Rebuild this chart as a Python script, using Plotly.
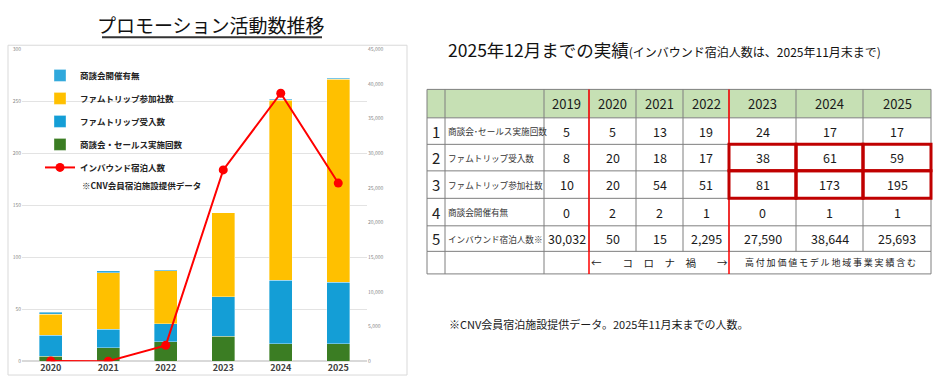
import plotly.graph_objects as go

# ---------------- data ----------------
years = ["2020", "2021", "2022", "2023", "2024", "2025"]
sales_meetings = [5, 13, 19, 24, 17, 17]          # 商談会・セールス実施回数
famtrip_accept = [20, 18, 17, 38, 61, 59]         # ファムトリップ受入数
famtrip_companies = [20, 54, 51, 81, 173, 195]    # ファムトリップ参加社数
meeting_held = [2, 2, 1, 0, 1, 1]                 # 商談会開催有無
inbound_stays = [50, 15, 2295, 27590, 38644, 25693]  # インバウンド宿泊人数

tbl_years = ["2019", "2020", "2021", "2022", "2023", "2024", "2025"]
tbl_labels = ["商談会･セールス実施回数", "ファムトリップ受入数", "ファムトリップ参加社数",
              "商談会開催有無", "インバウンド宿泊人数※"]
tbl_values = [
    [5, 5, 13, 19, 24, 17, 17],
    [8, 20, 18, 17, 38, 61, 59],
    [10, 20, 54, 51, 81, 173, 195],
    [0, 2, 2, 1, 0, 1, 1],
    [30032, 50, 15, 2295, 27590, 38644, 25693],
]
highlight_rows = [1, 2]       # rows boxed in red (0-based)
highlight_cols = [4, 5, 6]    # 2023-2025
corona_text = "←\u3000\u3000コ\u3000ロ\u3000ナ\u3000禍\u3000\u3000→"
model_text = "\u2009".join("高付加価値モデル地域事業実績含む")

title_left = "プロモーション活動数推移"
title_right_main = "2025年12月までの実績"
title_right_sub = "(インバウンド宿泊人数は、2025年11月末まで)"
note_legend = "※CNV会員宿泊施設提供データ"
footnote = "※CNV会員宿泊施設提供データ。2025年11月末までの人数。"

W, H = 935, 379
FONT = "Noto Sans CJK JP"


def X(px):
    return px / W


def Y(py):
    return 1 - py / H


def ann(text, x, y, size, color="#1A1A1A", xanchor="center", yanchor="middle"):
    return dict(text=text, x=X(x), y=Y(y), xref="paper", yref="paper", showarrow=False,
                xanchor=xanchor, yanchor=yanchor, font=dict(family=FONT, size=size, color=color))


fig = go.Figure()

bar_line = dict(color="rgba(255,255,255,0.6)", width=0.6)
fig.add_trace(go.Bar(x=years, y=sales_meetings, name="商談会・セールス実施回数",
                     marker=dict(color="#3B7D23", line=bar_line), legendrank=4, legendgroup="g4"))
fig.add_trace(go.Bar(x=years, y=famtrip_accept, name="ファムトリップ受入数",
                     marker=dict(color="#149ED6", line=bar_line), legendrank=3, legendgroup="g3"))
fig.add_trace(go.Bar(x=years, y=famtrip_companies, name="ファムトリップ参加社数",
                     marker=dict(color="#FFC000", line=bar_line), legendrank=2, legendgroup="g2"))
fig.add_trace(go.Bar(x=years, y=meeting_held, name="商談会開催有無",
                     marker=dict(color="#2FA8DC", line=bar_line), legendrank=1, legendgroup="g1"))
fig.add_trace(go.Scatter(x=years, y=inbound_stays, name="インバウンド宿泊人数", yaxis="y2",
                         mode="lines+markers", line=dict(color="#FF0000", width=2),
                         marker=dict(color="#FF0000", size=9), legendrank=5, legendgroup="g5"))

shapes = []
annotations = []

# chart frame
shapes.append(dict(type="rect", xref="paper", yref="paper", x0=X(8), x1=X(407), y0=Y(378), y1=Y(42),
                   line=dict(color="#D9D9D9", width=1), fillcolor="rgba(0,0,0,0)", layer="below"))

# title + underline
annotations.append(ann(title_left, 211, 21, 19, "#111111"))
shapes.append(dict(type="line", xref="paper", yref="paper", x0=X(102), x1=X(322), y0=Y(34), y1=Y(34),
                   line=dict(color="#333333", width=2)))

# legend note
annotations.append(ann("<b>" + note_legend + "</b>", 80, 184, 8.5, "#222222", xanchor="left"))

# right title
annotations.append(ann(title_right_main + "<span style='font-size:12px'>" + title_right_sub + "</span>",
                       446, 46, 17.5, "#111111", xanchor="left"))

# ---------------- table ----------------
col_edges = [427, 445, 544, 589, 636, 683, 729, 796, 863, 931]
row_edges = [87, 116, 143, 170, 198, 226, 252, 275]
grid = dict(color="#7F7F7F", width=1)

shapes.append(dict(type="rect", xref="paper", yref="paper", x0=X(col_edges[0]), x1=X(col_edges[-1]),
                   y0=Y(row_edges[1]), y1=Y(row_edges[0]), fillcolor="#C6E0B4", line=dict(width=0),
                   layer="below"))
for ry in row_edges:
    shapes.append(dict(type="line", xref="paper", yref="paper", x0=X(col_edges[0]), x1=X(col_edges[-1]),
                       y0=Y(ry), y1=Y(ry), line=grid))
for cx in col_edges:
    shapes.append(dict(type="line", xref="paper", yref="paper", x0=X(cx), x1=X(cx),
                       y0=Y(row_edges[0]), y1=Y(row_edges[-2]), line=grid))
for cx in [427, 445, 544, 931]:
    shapes.append(dict(type="line", xref="paper", yref="paper", x0=X(cx), x1=X(cx),
                       y0=Y(row_edges[-2]), y1=Y(row_edges[-1]), line=grid))
for cx in [589, 729]:
    shapes.append(dict(type="line", xref="paper", yref="paper", x0=X(cx), x1=X(cx),
                       y0=Y(row_edges[0]), y1=Y(row_edges[-1]), line=dict(color="#FF0000", width=1.5)))

# header
for j, yr in enumerate(tbl_years):
    cx = (col_edges[j + 2] + col_edges[j + 3]) / 2
    cy = (row_edges[0] + row_edges[1]) / 2
    annotations.append(ann(yr, cx, cy, 13))
# rows
for i, label in enumerate(tbl_labels):
    cy = (row_edges[i + 1] + row_edges[i + 2]) / 2
    annotations.append(ann(str(i + 1), (col_edges[0] + col_edges[1]) / 2, cy, 15, "#222222"))
    annotations.append(ann(label, col_edges[1] + 1, cy, 8.6, "#333333", xanchor="left"))
    for j, v in enumerate(tbl_values[i]):
        cx = (col_edges[j + 2] + col_edges[j + 3]) / 2
        annotations.append(ann(f"{v:,}", cx, cy, 12.5))
# bottom row
cy = (row_edges[-2] + row_edges[-1]) / 2
annotations.append(ann(corona_text, (589 + 729) / 2, cy, 10.5, "#222222"))
annotations.append(ann(model_text, (729 + 931) / 2, cy, 9, "#222222"))

# red highlight boxes
for r in highlight_rows:
    for c in highlight_cols:
        shapes.append(dict(type="rect", xref="paper", yref="paper",
                           x0=X(col_edges[c + 2]), x1=X(col_edges[c + 3]),
                           y0=Y(row_edges[r + 2]), y1=Y(row_edges[r + 1]),
                           line=dict(color="#C00000", width=3), fillcolor="rgba(0,0,0,0)"))

# footnote
annotations.append(ann(footnote, 447, 326, 11, xanchor="left"))

fig.update_layout(
    width=W, height=H,
    margin=dict(l=0, r=0, t=0, b=0),
    paper_bgcolor="white", plot_bgcolor="white",
    barmode="stack", bargap=0.6,
    font=dict(family=FONT),
    showlegend=True,
    legend=dict(x=X(40), y=Y(58), xanchor="left", yanchor="top", bgcolor="rgba(0,0,0,0)",
                font=dict(family=FONT, size=8.5, color="#222222", weight="bold"),
                tracegroupgap=4, itemwidth=30),
    xaxis=dict(domain=[X(22), X(367)], showgrid=False, showline=False, ticks="",
               tickfont=dict(family=FONT, size=9, color="#404040", weight="bold")),
    yaxis=dict(domain=[Y(364), Y(46)], range=[0, 300], dtick=50, showgrid=True,
               gridcolor="#E3E3E3", gridwidth=1, zeroline=True, zerolinecolor="#D9D9D9",
               tickfont=dict(size=5, color="#888888"), ticks=""),
    yaxis2=dict(overlaying="y", side="right", range=[0, 45000], dtick=5000, showgrid=False,
                zeroline=False, tickformat=",d", tickfont=dict(size=5, color="#888888"), ticks=""),
    shapes=shapes,
    annotations=annotations,
)

fig.write_html("out.html", config={"displayModeBar": False},
               post_script="document.body.style.margin='0';")
